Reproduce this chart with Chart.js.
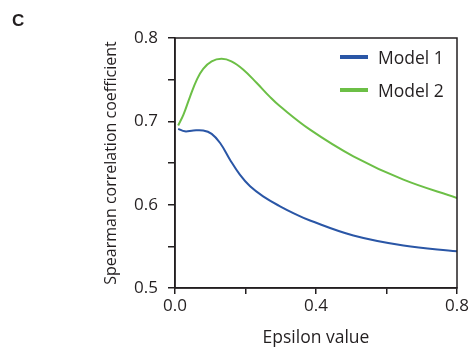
<!DOCTYPE html>
<html lang="en">
<head>
  <meta charset="UTF-8" />
  <title>Spearman correlation vs epsilon</title>
  <script src="https://cdn.jsdelivr.net/npm/chart.js"></script>
  <style>
    body { margin: 0; background: #fff; font-family: "Open Sans", sans-serif; color: #231f20; }
    .panel { position: relative; width: 474px; height: 351px; overflow: hidden; }
    .tag { position: absolute; left: 12px; top: 11px; font-family: "Liberation Sans", sans-serif; font-weight: bold; font-size: 17px; }
    .legend { position: absolute; left: 340px; top: 40px; font-size: 17.5px; }
    .legend div { display: flex; align-items: center; height: 33px; }
    .legend span.swatch { display: inline-block; width: 28px; height: 4px; margin-right: 10px; }
  </style>
</head>
<body>
  <div class="panel">
    <canvas id="epsChart" width="474" height="351"></canvas>
    <div class="tag">C</div>
    <div class="legend" id="legend"></div>
  </div>

  <script>
    // epsilon values and correlations
    const model1Eps = [0.009, 0.028, 0.052, 0.080, 0.104, 0.128, 0.156, 0.184, 0.213, 0.250, 0.298, 0.340, 0.383, 0.506, 0.648, 0.80];
    const model1Rho = [0.691, 0.688, 0.689, 0.689, 0.685, 0.674, 0.654, 0.636, 0.622, 0.610, 0.598, 0.589, 0.581, 0.563, 0.551, 0.544];
    const model2Eps = [0.009, 0.024, 0.043, 0.062, 0.080, 0.104, 0.132, 0.160, 0.194, 0.232, 0.270, 0.298, 0.383, 0.506, 0.648, 0.80];
    const model2Rho = [0.695, 0.708, 0.730, 0.750, 0.763, 0.772, 0.775, 0.772, 0.762, 0.746, 0.729, 0.718, 0.690, 0.658, 0.630, 0.608];
    const xTicks = [0.0, 0.2, 0.4, 0.6, 0.8];
    const xTickLabels = ['0.0', '', '0.4', '', '0.8'];
    const yTickLabels = { 0.5: '0.5', 0.6: '0.6', 0.7: '0.7', 0.8: '0.8' };

    const blue = '#2a56a6';
    const green = '#6cbf46';
    const ink = '#231f20';

    const toPoints = (xs, ys) => xs.map((x, i) => ({ x: x, y: ys[i] }));

    // closed frame round the plot area
    const frame = {
      id: 'frame',
      afterDraw(chart) {
        const { ctx, chartArea: a } = chart;
        ctx.save();
        ctx.strokeStyle = ink;
        ctx.lineWidth = 1.5;
        ctx.strokeRect(a.left, a.top, a.right - a.left, a.bottom - a.top);
        ctx.restore();
      }
    };

    const chart = new Chart(document.getElementById('epsChart'), {
      type: 'line',
      data: {
        datasets: [
          { label: 'Model 1', data: toPoints(model1Eps, model1Rho), borderColor: blue, borderWidth: 2, pointRadius: 0, tension: 0.4 },
          { label: 'Model 2', data: toPoints(model2Eps, model2Rho), borderColor: green, borderWidth: 2, pointRadius: 0, tension: 0.4 }
        ]
      },
      options: {
        responsive: false,
        animation: false,
        layout: { padding: { left: 100, right: 17, top: 38, bottom: 0 } },
        plugins: { legend: { display: false }, tooltip: { enabled: false } },
        scales: {
          x: {
            type: 'linear', min: 0, max: 0.8,
            afterBuildTicks: s => { s.ticks = xTicks.map(v => ({ value: v })); },
            afterFit: s => { s.height = 63; },
            grid: { drawOnChartArea: false, tickLength: 6, color: ink, lineWidth: 1.5 },
            border: { color: ink, width: 1.5 },
            ticks: { color: ink, padding: 2, maxRotation: 0, font: { family: 'Open Sans', size: 17 },
                     callback: (v, i) => xTickLabels[i] },
            title: { display: true, text: 'Epsilon value', color: ink, font: { family: 'Open Sans', size: 17.5 }, padding: { top: 4, bottom: 2 } }
          },
          y: {
            min: 0.5, max: 0.8,
            ticks: { stepSize: 0.05, color: ink, padding: 10, font: { family: 'Open Sans', size: 17 },
                     callback: v => yTickLabels[v.toFixed(2) * 1] || '' },
            afterFit: s => { s.width = 75; },
            grid: { drawOnChartArea: false, tickLength: 7, color: ink, lineWidth: 1.5 },
            border: { color: ink, width: 1.5 },
            title: { display: true, text: 'Spearman correlation coefficient', color: ink, font: { family: 'Open Sans', size: 16 }, padding: 2 }
          }
        }
      },
      plugins: [frame]
    });

    // legend drawn beside the plot, taken from the dataset settings
    document.getElementById('legend').innerHTML = chart.data.datasets.map(d =>
      '<div><span class="swatch" style="background:' + d.borderColor + '"></span>' + d.label + '</div>'
    ).join('');
  </script>
</body>
</html>
